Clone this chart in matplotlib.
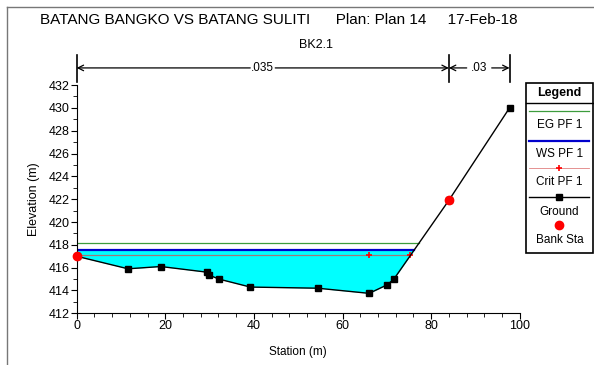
import numpy as np
import matplotlib.pyplot as plt
from matplotlib.lines import Line2D

plt.rcParams['font.family'] = ['Liberation Sans', 'DejaVu Sans']

# ground profile (station, elevation)
sta = [0.0, 11.6, 19.0, 29.5, 29.9, 32.1, 39.2, 54.4, 66.0, 70.1, 71.6, 84.0, 97.7]
elev = [417.0, 415.9, 416.1, 415.6, 415.35, 415.0, 414.3, 414.2, 413.75, 414.5, 415.0, 421.9, 430.0]
bank_sta = [0.0, 84.0]
bank_elev = [417.0, 421.9]
eg = 418.2
ws = 417.55
crit = 417.1
crit_x = [66.0, 75.3]
n_breaks = [0.0, 84.0, 97.7]
n_vals = [".035", ".03"]

fig = plt.figure(figsize=(5.94, 3.65), dpi=100)
ax = fig.add_axes([0.129, 0.1416, 0.746, 0.6254])

sta_a = np.array(sta)
elev_a = np.array(elev)

# where water surfaces cross the right bank
def cross(level):
    for i in range(len(sta) - 1):
        if elev[i] <= level <= elev[i + 1] and sta[i] > 50:
            return sta[i] + (level - elev[i]) / (elev[i + 1] - elev[i]) * (sta[i + 1] - sta[i])
    return sta[-1]

x_ws = cross(ws)
x_eg = cross(eg)

xf = np.linspace(0, x_ws, 400)
gf = np.interp(xf, sta_a, elev_a)
ax.fill_between(xf, gf, ws, where=gf <= ws, color='#00ffff', lw=0)

ax.plot([0, x_eg], [eg, eg], color='#3c9c3c', lw=0.9)
ax.plot([0, x_ws], [ws, ws], color='#0000cc', lw=1.6)
ax.plot([0, crit_x[-1]], [crit, crit], color='#a07878', lw=0.9)
ax.plot(crit_x, [crit] * len(crit_x), '+', color='red', ms=5, mew=1.2)
ax.plot(sta, elev, color='black', lw=1.0, marker='s', ms=4.5)
ax.plot(bank_sta, bank_elev, 'o', color='red', ms=6, clip_on=False, zorder=5)

ax.set_xlim(0, 100)
ax.set_ylim(412, 432)
ax.set_xticks(np.arange(0, 101, 20))
ax.set_xticks(np.arange(0, 101, 4), minor=True)
ax.set_yticks(np.arange(412, 433, 2))
ax.set_yticks(np.arange(412, 433, 1), minor=True)
ax.tick_params(which='major', length=4, labelsize=9, pad=1)
ax.tick_params(which='minor', length=3)
for s in ['top', 'right']:
    ax.spines[s].set_visible(False)
ax.set_xlabel('Station (m)', fontsize=8.5, labelpad=10)
ax.set_ylabel('Elevation (m)', fontsize=9, labelpad=6)

# manning's n bar above the plot
yb = 433.5
for xb in n_breaks:
    ax.plot([xb, xb], [432.3, 434.6], color='black', lw=1.2, clip_on=False)
for i, lab in enumerate(n_vals):
    x0, x1 = n_breaks[i], n_breaks[i + 1]
    xm = (x0 + x1) / 2
    for xe in (x0, x1):
        ax.annotate('', xy=(xe, yb), xytext=(xm, yb), annotation_clip=False,
                    arrowprops=dict(arrowstyle='->', color='black', lw=0.9,
                                    shrinkA=9, shrinkB=0))
    ax.text(xm, yb, lab, ha='center', va='center', fontsize=8.5, clip_on=False)

fig.text(0.47, 0.945, 'BATANG BANGKO VS BATANG SULITI      Plan: Plan 14     17-Feb-18',
         ha='center', va='center', fontsize=11)
fig.text(0.532, 0.877, 'BK2.1', ha='center', va='center', fontsize=9)

# legend box drawn by hand
def py(p):
    return 1 - p / 365

lx0, lx1 = 525.7 / 594, 593 / 594
ly0, ly1 = py(252.7), py(83.3)
fig.patches.append(plt.Rectangle((lx0, ly0), lx1 - lx0, ly1 - ly0, transform=fig.transFigure,
                                 fill=False, ec='black', lw=1.2))
lcx = (lx0 + lx1) / 2
fig.lines.append(Line2D([lx0, lx1], [py(103)] * 2, transform=fig.transFigure, color='black', lw=1))
fig.text(lcx, py(93), 'Legend', ha='center', va='center', fontsize=9, fontweight='bold')
sx0, sx1 = lx0 + 0.006, lx1 - 0.006
fig.lines.append(Line2D([sx0, sx1], [py(111)] * 2, transform=fig.transFigure, color='#3c9c3c', lw=0.9))
fig.text(lcx, py(125), 'EG PF 1', ha='center', va='center', fontsize=8.5)
fig.lines.append(Line2D([sx0, sx1], [py(141)] * 2, transform=fig.transFigure, color='#0000cc', lw=1.6))
fig.text(lcx, py(154), 'WS PF 1', ha='center', va='center', fontsize=8.5)
fig.lines.append(Line2D([sx0, sx1], [py(168)] * 2, transform=fig.transFigure, color='#e08080', lw=0.6))
fig.lines.append(Line2D([lcx], [py(168)], transform=fig.transFigure, color='red', marker='+', ms=5, mew=1.2))
fig.text(lcx, py(182), 'Crit PF 1', ha='center', va='center', fontsize=8.5)
fig.lines.append(Line2D([sx0, sx1], [py(197)] * 2, transform=fig.transFigure, color='black', lw=1))
fig.lines.append(Line2D([lcx], [py(197)], transform=fig.transFigure, color='black', marker='s', ms=4.5))
fig.text(lcx, py(212), 'Ground', ha='center', va='center', fontsize=8.5)
fig.lines.append(Line2D([lcx], [py(225)], transform=fig.transFigure, color='red', marker='o', ms=6))
fig.text(lcx, py(240), 'Bank Sta', ha='center', va='center', fontsize=8.5)

# outer frame lines (left and top)
fig.lines.append(Line2D([7 / 594, 7 / 594], [0, py(7)], transform=fig.transFigure, color='#777777', lw=1))
fig.lines.append(Line2D([7 / 594, 1], [py(7), py(7)], transform=fig.transFigure, color='#777777', lw=1))

fig.savefig('out.png', dpi=100)
